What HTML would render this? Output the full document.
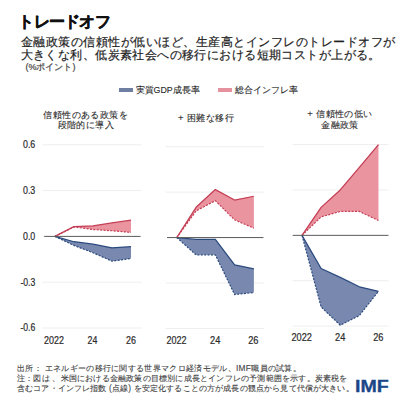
<!DOCTYPE html>
<html lang="ja"><head><meta charset="utf-8"><style>
html,body{margin:0;padding:0;background:#fff;width:408px;height:408px;overflow:hidden}
body{position:relative;font-family:"Liberation Sans",sans-serif;color:#222}
.t{position:absolute;white-space:nowrap;line-height:1}
svg{position:absolute;left:0;top:0}
.ax{font-family:"Liberation Sans",sans-serif;font-size:10.4px;fill:#2a2a2a;stroke:#2a2a2a;stroke-width:0.2px}
</style></head><body>
<div class="t" style="left:18.3px;top:14px;font-size:15.5px;letter-spacing:-0.75px;font-weight:bold;color:#111;-webkit-text-stroke:0.4px #111">トレードオフ</div>
<div class="t" style="left:20.6px;top:36.5px;font-size:11.8px;letter-spacing:0.5px;color:#1e1e1e;-webkit-text-stroke:0.2px #1e1e1e">金融政策の信頼性が低いほど、生産高とインフレのトレードオフが</div>
<div class="t" style="left:20.6px;top:49.8px;font-size:11.8px;letter-spacing:0.42px;color:#1e1e1e;-webkit-text-stroke:0.2px #1e1e1e">大きくな利、低炭素社会への移行における短期コストが上がる。</div>
<div class="t" style="left:25.5px;top:63.3px;font-size:9px;color:#444;-webkit-text-stroke:0.2px #444">(%ポイント)</div>
<div class="t" style="left:118.8px;top:88.3px;width:14.2px;height:3.5px;background:#6e7fa3"></div>
<div class="t" style="left:135.6px;top:85.8px;font-size:8.8px;color:#262626;-webkit-text-stroke:0.1px #262626">実質GDP成長率</div>
<div class="t" style="left:217.9px;top:88.3px;width:14.4px;height:3.6px;background:#e5929e"></div>
<div class="t" style="left:235.4px;top:85.8px;font-size:8.8px;color:#262626;-webkit-text-stroke:0.1px #262626">総合インフレ率</div>
<div class="t" style="left:35.8px;top:109.7px;width:100px;text-align:center;font-size:9.4px;letter-spacing:0.4px;line-height:10.8px;color:#2a2a2a;-webkit-text-stroke:0.1px #2a2a2a">信頼性のある政策を<br>段階的に導入</div>
<div class="t" style="left:156px;top:113.4px;width:100px;text-align:center;font-size:9.4px;letter-spacing:0.4px;line-height:10.8px;color:#2a2a2a;-webkit-text-stroke:0.1px #2a2a2a">+ 困難な移行</div>
<div class="t" style="left:290px;top:109.1px;width:100px;text-align:center;font-size:9.4px;letter-spacing:0.4px;line-height:10.8px;color:#2a2a2a;-webkit-text-stroke:0.1px #2a2a2a">+ 信頼性の低い<br>金融政策</div>
<svg width="408" height="408" viewBox="0 0 408 408">
<line x1="42.5" y1="144.78" x2="141.5" y2="144.78" stroke="#eeeeee" stroke-width="1"/>
<line x1="42.5" y1="190.59" x2="141.5" y2="190.59" stroke="#eeeeee" stroke-width="1"/>
<line x1="42.5" y1="282.21" x2="141.5" y2="282.21" stroke="#eeeeee" stroke-width="1"/>
<line x1="42.5" y1="328.02" x2="141.5" y2="328.02" stroke="#eeeeee" stroke-width="1"/>
<line x1="165.5" y1="146.73" x2="264" y2="146.73" stroke="#eeeeee" stroke-width="1"/>
<line x1="165.5" y1="192.15" x2="264" y2="192.15" stroke="#eeeeee" stroke-width="1"/>
<line x1="165.5" y1="282.99" x2="264" y2="282.99" stroke="#eeeeee" stroke-width="1"/>
<line x1="165.5" y1="328.41" x2="264" y2="328.41" stroke="#eeeeee" stroke-width="1"/>
<line x1="292.5" y1="144.60" x2="388.5" y2="144.60" stroke="#eeeeee" stroke-width="1"/>
<line x1="292.5" y1="189.97" x2="388.5" y2="189.97" stroke="#eeeeee" stroke-width="1"/>
<line x1="292.5" y1="280.73" x2="388.5" y2="280.73" stroke="#eeeeee" stroke-width="1"/>
<line x1="292.5" y1="326.10" x2="388.5" y2="326.10" stroke="#eeeeee" stroke-width="1"/>
<polygon points="54.90,236.40 73.93,226.63 92.96,225.86 111.99,222.96 131.02,220.21 131.02,232.43 111.99,230.75 92.96,229.53 73.93,226.93 54.90,236.40" fill="#ea94a0"/>
<polygon points="54.90,236.40 73.93,241.74 92.96,244.19 111.99,247.85 131.02,246.63 131.02,258.39 111.99,261.14 92.96,252.74 73.93,245.41 54.90,236.40" fill="#7888ae"/>
<polyline points="54.90,236.40 73.93,226.93 92.96,229.53 111.99,230.75 131.02,232.43" fill="none" stroke="#c43e55" stroke-width="1.2" stroke-dasharray="2,1.4"/>
<polyline points="54.90,236.40 73.93,245.41 92.96,252.74 111.99,261.14 131.02,258.39" fill="none" stroke="#2b4a7e" stroke-width="1.2" stroke-dasharray="2,1.4"/>
<polyline points="54.90,236.40 73.93,226.63 92.96,225.86 111.99,222.96 131.02,220.21" fill="none" stroke="#c43e55" stroke-width="1.25" stroke-linejoin="round"/>
<polyline points="54.90,236.40 73.93,241.74 92.96,244.19 111.99,247.85 131.02,246.63" fill="none" stroke="#2b4a7e" stroke-width="1.25" stroke-linejoin="round"/>
<polygon points="176.80,237.57 196.07,207.29 215.34,189.58 234.61,200.02 253.88,196.24 253.88,228.18 234.61,219.86 215.34,200.63 196.07,210.92 176.80,237.57" fill="#ea94a0"/>
<polygon points="176.80,237.57 196.07,239.39 215.34,239.39 234.61,264.82 253.88,268.91 253.88,292.53 234.61,294.50 215.34,254.83 196.07,254.83 176.80,237.57" fill="#7888ae"/>
<polyline points="176.80,237.57 196.07,210.92 215.34,200.63 234.61,219.86 253.88,228.18" fill="none" stroke="#c43e55" stroke-width="1.2" stroke-dasharray="2,1.4"/>
<polyline points="176.80,237.57 196.07,254.83 215.34,254.83 234.61,294.50 253.88,292.53" fill="none" stroke="#2b4a7e" stroke-width="1.2" stroke-dasharray="2,1.4"/>
<polyline points="176.80,237.57 196.07,207.29 215.34,189.58 234.61,200.02 253.88,196.24" fill="none" stroke="#c43e55" stroke-width="1.25" stroke-linejoin="round"/>
<polyline points="176.80,237.57 196.07,239.39 215.34,239.39 234.61,264.82 253.88,268.91" fill="none" stroke="#2b4a7e" stroke-width="1.25" stroke-linejoin="round"/>
<polygon points="302.00,235.35 321.12,207.37 340.24,189.97 359.36,167.29 378.48,144.60 378.48,220.53 359.36,211.45 340.24,211.45 321.12,216.90 302.00,235.35" fill="#ea94a0"/>
<polygon points="302.00,235.35 321.12,268.47 340.24,277.40 359.36,286.77 378.48,291.31 378.48,291.31 359.36,315.51 340.24,325.19 321.12,306.89 302.00,235.35" fill="#7888ae"/>
<polyline points="302.00,235.35 321.12,216.90 340.24,211.45 359.36,211.45 378.48,220.53" fill="none" stroke="#c43e55" stroke-width="1.2" stroke-dasharray="2,1.4"/>
<polyline points="302.00,235.35 321.12,306.89 340.24,325.19 359.36,315.51 378.48,291.31" fill="none" stroke="#2b4a7e" stroke-width="1.2" stroke-dasharray="2,1.4"/>
<polyline points="302.00,235.35 321.12,207.37 340.24,189.97 359.36,167.29 378.48,144.60" fill="none" stroke="#c43e55" stroke-width="1.25" stroke-linejoin="round"/>
<polyline points="302.00,235.35 321.12,268.47 340.24,277.40 359.36,286.77 378.48,291.31" fill="none" stroke="#2b4a7e" stroke-width="1.25" stroke-linejoin="round"/>
<line x1="44.2" y1="236.40" x2="140.6" y2="236.40" stroke="#5a5a5a" stroke-width="1"/>
<line x1="167" y1="237.57" x2="263.5" y2="237.57" stroke="#5a5a5a" stroke-width="1"/>
<line x1="292.7" y1="235.35" x2="388.5" y2="235.35" stroke="#5a5a5a" stroke-width="1"/>
<text x="23.0" y="148.08" class="ax" textLength="12.30" lengthAdjust="spacingAndGlyphs">0.6</text>
<text x="23.0" y="193.89" class="ax" textLength="12.30" lengthAdjust="spacingAndGlyphs">0.3</text>
<text x="23.0" y="239.70" class="ax" textLength="12.30" lengthAdjust="spacingAndGlyphs">0.0</text>
<text x="20.4" y="285.51" class="ax" textLength="14.90" lengthAdjust="spacingAndGlyphs">-0.3</text>
<text x="20.4" y="331.32" class="ax" textLength="14.90" lengthAdjust="spacingAndGlyphs">-0.6</text>
<text x="44.00" y="343.80" class="ax" textLength="19.90" lengthAdjust="spacingAndGlyphs">2022</text>
<text x="87.50" y="343.80" class="ax" textLength="9.80" lengthAdjust="spacingAndGlyphs">24</text>
<text x="126.00" y="343.80" class="ax" textLength="9.90" lengthAdjust="spacingAndGlyphs">26</text>
<text x="166.50" y="344.30" class="ax" textLength="20.00" lengthAdjust="spacingAndGlyphs">2022</text>
<text x="210.00" y="344.30" class="ax" textLength="10.30" lengthAdjust="spacingAndGlyphs">24</text>
<text x="248.20" y="344.30" class="ax" textLength="10.30" lengthAdjust="spacingAndGlyphs">26</text>
<text x="291.50" y="341.20" class="ax" textLength="20.50" lengthAdjust="spacingAndGlyphs">2022</text>
<text x="335.00" y="341.20" class="ax" textLength="10.30" lengthAdjust="spacingAndGlyphs">24</text>
<text x="373.20" y="341.20" class="ax" textLength="10.30" lengthAdjust="spacingAndGlyphs">26</text>
</svg>
<div class="t" style="left:17px;top:363.8px;font-size:8.3px;letter-spacing:0.32px;color:#404040;-webkit-text-stroke:0.1px #404040">出所： エネルギーの移行に関する世界マクロ経済モデル、IMF職員の試算。</div>
<div class="t" style="left:17px;top:373.8px;font-size:8.3px;letter-spacing:0.2px;color:#404040;-webkit-text-stroke:0.1px #404040">注：図は 、米国における金融政策の目標別に成長とインフレの予測範囲を示す。炭素税を</div>
<div class="t" style="left:17px;top:384.3px;font-size:8.3px;letter-spacing:0.15px;color:#404040;-webkit-text-stroke:0.1px #404040">含むコア・インフレ指数 (点線) を安定化することの方が成長の観点から見て代償が大きい。</div>
<div class="t" style="left:354.6px;top:378.7px;font-size:16px;font-weight:bold;color:#1a4688;-webkit-text-stroke:0.3px #1a4688;transform:scaleX(1.225);transform-origin:0 0">IMF</div>
</body></html>
